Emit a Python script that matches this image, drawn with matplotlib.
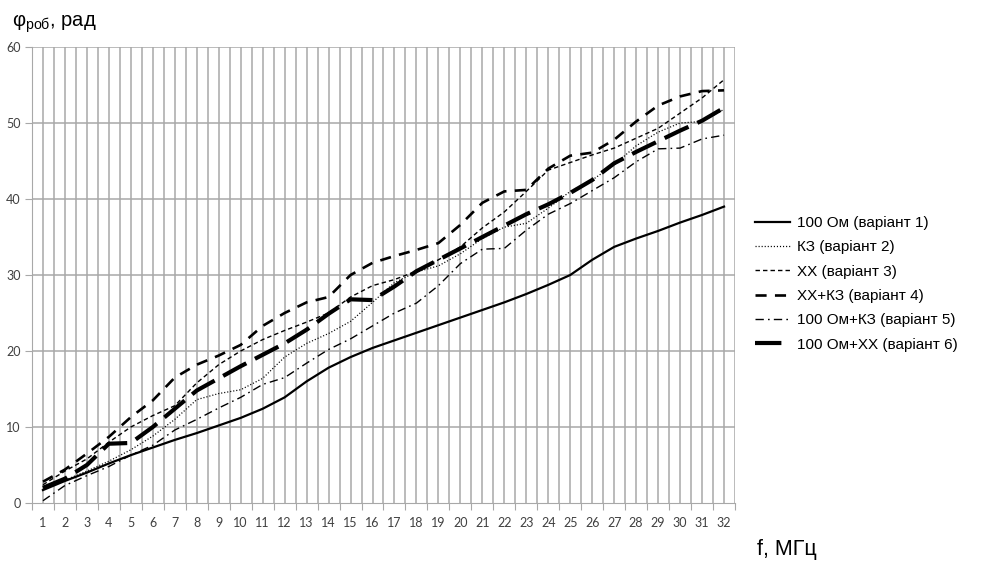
import numpy as np
import matplotlib.pyplot as plt

plt.rcParams['font.family'] = ['Liberation Sans', 'DejaVu Sans']
plt.rcParams['lines.scale_dashes'] = False

# частота, МГц
freq = np.arange(1, 33)

# фазовий набіг, рад
v1_100om = [1.7, 2.9, 4.0, 5.2, 6.3, 7.3, 8.3, 9.2, 10.2, 11.2, 12.4, 13.9,
            16.0, 17.8, 19.2, 20.4, 21.4, 22.4, 23.4, 24.4, 25.4, 26.4, 27.5,
            28.7, 30.0, 32.0, 33.7, 34.8, 35.8, 36.9, 37.9, 39.0]
v2_kz = [1.8, 3.0, 4.2, 5.5, 7.0, 8.8, 11.0, 13.6, 14.4, 14.9, 16.4, 19.2,
         21.0, 22.3, 23.9, 26.4, 29.0, 30.4, 31.2, 32.8, 34.8, 36.3, 36.8,
         38.8, 41.0, 42.5, 44.5, 47.0, 48.8, 50.0, 50.2, 51.8]
v3_xx = [2.4, 4.2, 5.8, 8.0, 10.0, 11.5, 12.8, 15.8, 18.2, 20.0, 21.5, 22.7,
         23.8, 25.0, 27.1, 28.6, 29.4, 30.5, 32.0, 33.7, 36.2, 38.3, 41.0,
         43.8, 44.8, 45.8, 46.7, 48.0, 49.3, 51.3, 53.3, 55.7]
v4_xx_kz = [2.8, 4.4, 6.5, 8.7, 11.3, 13.5, 16.5, 18.2, 19.4, 20.8, 23.3,
            25.0, 26.4, 27.1, 30.0, 31.6, 32.5, 33.3, 34.2, 36.6, 39.5, 41.0,
            41.2, 44.0, 45.7, 46.1, 47.8, 50.2, 52.3, 53.5, 54.2, 54.3]
v5_100om_kz = [0.3, 2.3, 3.6, 4.8, 6.3, 7.6, 9.6, 11.0, 12.5, 13.9, 15.6,
               16.5, 18.4, 20.2, 21.6, 23.3, 25.0, 26.3, 28.6, 31.5, 33.4,
               33.5, 35.9, 38.0, 39.4, 41.1, 42.8, 44.9, 46.6, 46.7, 47.9, 48.4]
v6_100om_xx = [2.0, 3.2, 5.0, 7.8, 7.9, 10.0, 12.4, 14.8, 16.4, 18.0, 19.5,
               21.0, 22.8, 24.9, 26.8, 26.7, 28.5, 30.5, 32.0, 33.5, 35.0,
               36.5, 38.0, 39.3, 40.8, 42.5, 44.7, 46.2, 47.6, 49.0, 50.3, 52.0]

labels = ['100 Ом (варіант 1)', 'КЗ (варіант 2)', 'ХХ (варіант 3)',
          'ХХ+КЗ (варіант 4)', '100 Ом+КЗ (варіант 5)', '100 Ом+ХХ (варіант 6)']

fig = plt.figure(figsize=(9.93, 5.61), dpi=100)
ax = fig.add_axes([0.0322, 0.1034, 0.7080, 0.8128])

ax.plot(freq, v1_100om, color='black', lw=1.6, label=labels[0])
ax.plot(freq, v2_kz, color='black', lw=0.9, dashes=(0.8, 1.4), label=labels[1])
ax.plot(freq, v3_xx, color='black', lw=1.0, dashes=(3.2, 2.2), label=labels[2])
ax.plot(freq, v4_xx_kz, color='black', lw=1.9, dashes=(8, 6), label=labels[3])
ax.plot(freq, v5_100om_kz, color='black', lw=1.0, dashes=(6, 3, 1.2, 3),
        label=labels[4])
ax.plot(freq, v6_100om_xx, color='black', lw=3.0, dashes=(19, 7),
        label=labels[5])

grid_c = '#a8a8a8'
ax.set_xlim(0.5, 32.5)
ax.set_ylim(0, 60)
ax.set_xticks(np.arange(0.5, 33, 1))
ax.set_xticklabels([])
ax.set_xticks(freq, minor=True)
ax.set_xticklabels([str(f) for f in freq], minor=True)
ax.set_yticks(np.arange(0, 61, 10))
for x in np.arange(0.5, 32.6, 0.5):
    ax.axvline(x, color=grid_c, lw=1.1, zorder=0)
for y in range(10, 61, 10):
    ax.axhline(y, color=grid_c, lw=1.1, zorder=0)

ax.tick_params(axis='x', which='major', length=5, color=grid_c)
ax.tick_params(axis='x', which='minor', length=0, pad=10, labelsize=9,
               labelcolor='#404040')
ax.tick_params(axis='y', length=5, color=grid_c, labelsize=9,
               labelcolor='#404040', pad=3)
for lab in ax.get_xticklabels(minor=True) + ax.get_yticklabels():
    lab.set_family(['Lato', 'DejaVu Sans'])
for side in ['left', 'bottom']:
    ax.spines[side].set_color(grid_c)
for side in ['top', 'right']:
    ax.spines[side].set_visible(False)

fig.text(0.012, 0.958, r'φ$_{\mathregular{роб}}$, рад', fontsize=14.5,
         va='center', ha='left')
fig.text(0.792, 0.02, 'f, МГц', fontsize=15.5, va='center', ha='center')

fig.legend(loc='center left', bbox_to_anchor=(0.760, 0.494), frameon=False,
           fontsize=11, handlelength=2.3, handletextpad=0.5,
           labelspacing=0.68, borderpad=0, borderaxespad=0)

fig.savefig('out.png', dpi=100)
